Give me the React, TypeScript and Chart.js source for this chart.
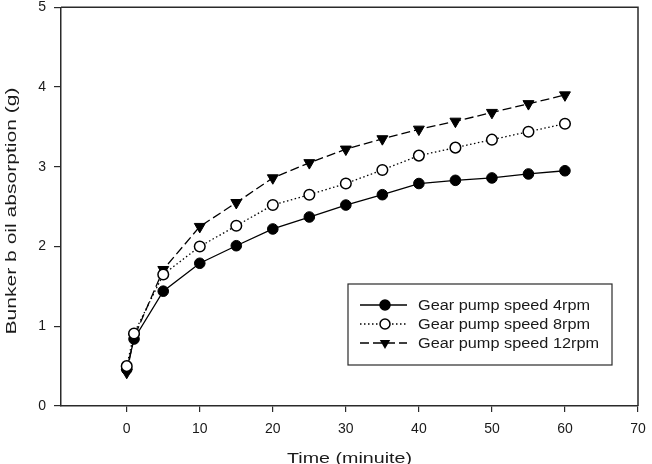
import { useEffect, useRef } from 'react';
import { Chart, registerables } from 'chart.js';

Chart.register(...registerables);

// Sampling times (minutes) and absorbed oil mass (g) for each pump speed
const times = [0, 1, 5, 10, 15, 20, 25, 30, 35, 40, 45, 50, 55, 60];
const speed4rpm = [0.46, 0.84, 1.44, 1.79, 2.01, 2.22, 2.37, 2.52, 2.65, 2.79, 2.83, 2.86, 2.91, 2.95];
const speed8rpm = [0.5, 0.91, 1.65, 2.0, 2.26, 2.52, 2.65, 2.79, 2.96, 3.14, 3.24, 3.34, 3.44, 3.54];
const speed12rpm = [0.42, 0.86, 1.71, 2.25, 2.55, 2.86, 3.05, 3.22, 3.35, 3.47, 3.57, 3.68, 3.79, 3.9];
const seriesLabels = ['Gear pump speed 4rpm', 'Gear pump speed 8rpm', 'Gear pump speed 12rpm'];

const xTicks = [0, 10, 20, 30, 40, 50, 60, 70];
const yTicks = [0, 1, 2, 3, 4, 5];
const xTitle = 'Time (minuite)';
const yTitle = 'Bunker b oil absorption (g)';

const FONT = '"Liberation Sans", Arial, Helvetica, sans-serif';
const INK = '#1a1a1a';

type Marker = 'filled' | 'open' | 'triangle';
const markers: Marker[] = ['filled', 'open', 'triangle'];
const dashes: number[][] = [[], [1.5, 2.5], [9, 4]];

function drawMarker(ctx: CanvasRenderingContext2D, m: Marker, x: number, y: number) {
  ctx.save();
  ctx.lineWidth = 1.5;
  ctx.strokeStyle = '#000';
  ctx.setLineDash([]);
  ctx.beginPath();
  if (m === 'triangle') {
    ctx.moveTo(x, y + 6);
    ctx.lineTo(x - 5.2, y - 3);
    ctx.lineTo(x + 5.2, y - 3);
    ctx.closePath();
    ctx.fillStyle = '#000';
    ctx.fill();
  } else {
    ctx.arc(x, y, 5, 0, Math.PI * 2);
    ctx.fillStyle = m === 'filled' ? '#000' : '#fff';
    ctx.fill();
    ctx.stroke();
  }
  ctx.restore();
}

// Draws text stretched horizontally so that it spans `width` pixels
function stretchedText(ctx: CanvasRenderingContext2D, text: string, width: number) {
  const w = ctx.measureText(text).width;
  ctx.scale(width / w, 1);
  ctx.fillText(text, 0, 0);
}

const framePlugin = {
  id: 'frame',
  afterDatasetsDraw(chart: any) {
    const { ctx, chartArea: a } = chart;
    ctx.save();
    ctx.strokeStyle = '#2a2a2a';
    ctx.lineWidth = 1.5;
    ctx.beginPath();
    ctx.moveTo(a.left, a.top);
    ctx.lineTo(a.right, a.top);
    ctx.lineTo(a.right, a.bottom);
    ctx.stroke();
    ctx.restore();
  },
};

const titlesPlugin = {
  id: 'axisTitles',
  afterDraw(chart: any) {
    const { ctx, chartArea: a } = chart;
    ctx.save();
    ctx.fillStyle = INK;
    ctx.font = `15px ${FONT}`;
    ctx.textAlign = 'center';
    ctx.textBaseline = 'alphabetic';
    ctx.save();
    ctx.translate((a.left + a.right) / 2, 463);
    stretchedText(ctx, xTitle, 125);
    ctx.restore();
    ctx.save();
    ctx.translate(16, 211);
    ctx.rotate(-Math.PI / 2);
    stretchedText(ctx, yTitle, 247);
    ctx.restore();
    ctx.restore();
  },
};

const legendPlugin = {
  id: 'boxLegend',
  afterDraw(chart: any) {
    const { ctx } = chart;
    const left = 348, top = 284, width = 264, height = 81;
    ctx.save();
    ctx.strokeStyle = '#2a2a2a';
    ctx.lineWidth = 1.2;
    ctx.strokeRect(left, top, width, height);
    ctx.font = `14px ${FONT}`;
    ctx.textBaseline = 'middle';
    ctx.textAlign = 'left';
    ctx.fillStyle = INK;
    const sx = 172 / ctx.measureText(seriesLabels[0]).width;
    seriesLabels.forEach((label, i) => {
      const y = top + 21 + i * 19;
      ctx.save();
      ctx.strokeStyle = '#000';
      ctx.lineWidth = 1.3;
      ctx.setLineDash(dashes[i]);
      ctx.beginPath();
      ctx.moveTo(left + 12, y);
      ctx.lineTo(left + 59, y);
      ctx.stroke();
      ctx.restore();
      drawMarker(ctx, markers[i], left + 37, y);
      ctx.save();
      ctx.translate(left + 70, y + 1);
      ctx.scale(sx, 1);
      ctx.fillText(label, 0, 0);
      ctx.restore();
    });
    ctx.restore();
  },
};

function zeroPadding(scale: any) {
  scale.paddingLeft = 0;
  scale.paddingRight = 0;
  scale.paddingTop = 0;
  scale.paddingBottom = 0;
}

export default function App() {
  const canvasRef = useRef<HTMLCanvasElement | null>(null);

  useEffect(() => {
    const canvas = canvasRef.current;
    if (!canvas) return;

    const series = [speed4rpm, speed8rpm, speed12rpm];
    const datasets = series.map((vals, i) => ({
      label: seriesLabels[i],
      data: times.map((t, k) => ({ x: t, y: vals[k] })),
      borderColor: '#000',
      borderWidth: 1.3,
      borderDash: dashes[i],
      tension: 0,
      fill: false,
      pointStyle: markers[i] === 'triangle' ? 'triangle' : 'circle',
      pointRotation: markers[i] === 'triangle' ? 180 : 0,
      pointRadius: markers[i] === 'triangle' ? 6.3 : 5.3,
      pointBackgroundColor: markers[i] === 'open' ? '#fff' : '#000',
      pointBorderColor: '#000',
      pointBorderWidth: markers[i] === 'open' ? 1.5 : 1,
      order: [2, 1, 3][i],
    }));

    const tickFont = { family: FONT, size: 14 };

    const chart = new Chart(canvas, {
      type: 'line',
      data: { datasets },
      options: {
        animation: false,
        responsive: false,
        devicePixelRatio: 1,
        layout: { padding: { top: 6, right: 14, left: 0, bottom: 0 } },
        plugins: {
          legend: { display: false },
          tooltip: { enabled: false },
        },
        scales: {
          x: {
            type: 'linear',
            min: -9,
            max: 70,
            afterBuildTicks: (s: any) => {
              s.ticks = xTicks.map((v) => ({ value: v }));
            },
            afterFit: (s: any) => {
              s.height = 58;
              zeroPadding(s);
            },
            grid: { drawOnChartArea: false, drawTicks: true, tickLength: 6, color: '#2a2a2a', lineWidth: 1.2 },
            border: { display: true, color: '#2a2a2a', width: 1.5 },
            ticks: { color: INK, font: tickFont, padding: 9, maxRotation: 0, autoSkip: false },
          },
          y: {
            type: 'linear',
            min: 0,
            max: 5,
            afterBuildTicks: (s: any) => {
              s.ticks = yTicks.map((v) => ({ value: v }));
            },
            afterFit: (s: any) => {
              s.width = 61;
              zeroPadding(s);
            },
            grid: { drawOnChartArea: false, drawTicks: true, tickLength: 7, color: '#2a2a2a', lineWidth: 1.2 },
            border: { display: true, color: '#2a2a2a', width: 1.5 },
            ticks: { color: INK, font: tickFont, padding: 8, autoSkip: false },
          },
        },
      },
      plugins: [framePlugin, titlesPlugin, legendPlugin],
    } as any);

    return () => chart.destroy();
  }, []);

  return (
    <div style={{ position: 'fixed', left: 0, top: 0, width: 652, height: 464, background: '#fff' }}>
      <canvas ref={canvasRef} width={652} height={464} style={{ display: 'block' }} />
    </div>
  );
}
